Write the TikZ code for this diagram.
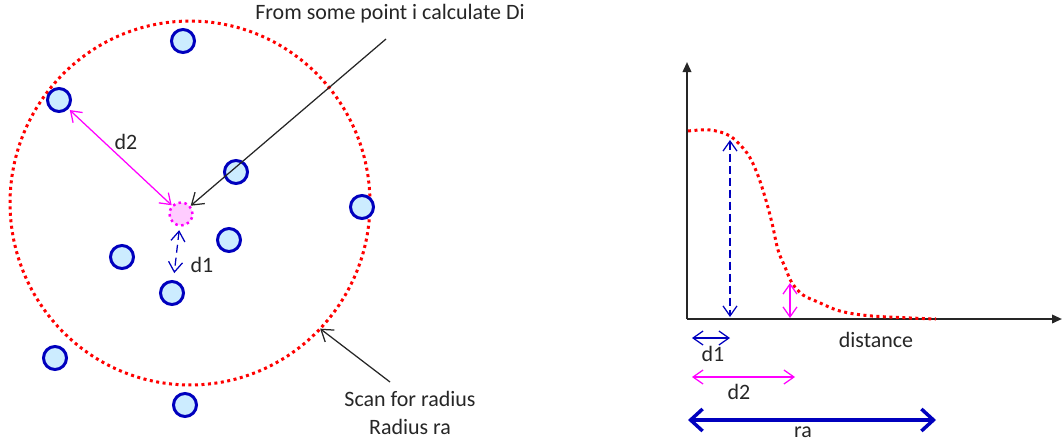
\documentclass[tikz,border=0pt]{standalone}
\usepackage{fontspec}
\setmainfont{Carlito}
\usepackage{xcolor}
\definecolor{ptblue}{RGB}{0,0,190}
\definecolor{ptfill}{RGB}{204,236,255}
\definecolor{hot}{RGB}{255,0,255}
\definecolor{pinkfill}{RGB}{255,204,255}
\definecolor{scanred}{RGB}{255,0,0}
\definecolor{ink}{RGB}{38,38,38}
\usepackage{tikz}
\usetikzlibrary{
    shapes.geometric,
    arrows.meta,
    positioning,
    calc
}

\tikzset{
    pt/.style={circle, draw=ptblue, fill=ptfill, line width=0.06cm, minimum size=0.46cm, inner sep=0pt},
    centre/.style={circle, draw=hot, fill=pinkfill, line width=0.05cm, dash pattern=on 0.05cm off 0.07cm, minimum size=0.46cm, inner sep=0pt},
    ring/.style={ellipse, draw=scanred, line width=0.06cm, dash pattern=on 0.06cm off 0.07cm, minimum width=7.2cm, minimum height=7.28cm, inner sep=0pt, outer sep=0pt},
    redcurve/.style={scanred, line width=0.06cm, dash pattern=on 0.06cm off 0.07cm},
    lbl/.style={font=\fontsize{12.5}{16}\selectfont, text=ink},
    barb/.style={{Straight Barb[length=0.2cm,width=0.28cm]}-{Straight Barb[length=0.2cm,width=0.28cm]}, line width=0.025cm},
    pointer/.style={-{Straight Barb[length=0.22cm,width=0.3cm]}, line width=0.025cm, ink},
    axis/.style={-{Triangle[length=0.2cm,width=0.17cm]}, line width=0.04cm, ink}
}

\begin{document}
\begin{tikzpicture}[x=0.02cm, y=-0.02cm]
    \useasboundingbox (0,0) rectangle (1062,443);
    \node[ring] (scan) at (190,203) {};
    \node[pt] (p1) at (183,41) {};
    \node[pt] (p2) at (59,100) {};
    \node[pt] (p3) at (236,172) {};
    \node[pt] (p4) at (362,207) {};
    \node[pt] (p5) at (229,240) {};
    \node[pt] (p6) at (122,257) {};
    \node[pt] (p7) at (172,293) {};
    \node[pt] (p8) at (55,358) {};
    \node[pt] (p9) at (185,405) {};
    \node[centre] (pi) at (181,214) {};
    \node[lbl] (fromlbl) at (390,14) {From some point i calculate Di};
    \node[lbl, align=center] (scanlbl) at (410,413) {Scan for radius\\Radius ra};
    \coordinate (fromtail) at (386,39);
    \coordinate (scantail) at (390,382);
    \draw[pointer] (fromtail) -- (pi);
    \draw[pointer] (scantail) -- (scan.-44);
    \draw[barb, hot, shorten <=1pt] (p2) -- (pi);
    \draw[barb, ptblue, dash pattern=on 0.16cm off 0.1cm, shorten <=2pt, shorten >=4pt] (pi) -- (p7);
    \node[lbl] (d2lbl) at (126,142) {d2};
    \node[lbl] (d1lbl) at (202,265) {d1};

    \coordinate (O) at (687,319);
    \coordinate (ytop) at (687,62);
    \coordinate (xend) at (1062,319);
    \draw[axis] (O) -- (ytop);
    \draw[axis] (O) -- (xend);
    \draw[redcurve] plot[smooth, tension=0.55] coordinates {(688,131) (710,130) (730,136) (747,153) (757,173) (765,197) (772,223) (778,250) (785,267) (792,283) (803,295) (818,302) (840,311) (872,316) (936,319)};
    \coordinate (h1) at (730,140);
    \coordinate (b1) at (730,317);
    \draw[barb, ptblue, dash pattern=on 0.16cm off 0.08cm] (h1) -- (b1);
    \coordinate (h2) at (790,283);
    \coordinate (b2) at (790,318);
    \draw[barb, hot] (h2) -- (b2);
    \coordinate (d1a) at (692,338);
    \coordinate (d1b) at (730,338);
    \draw[barb, ptblue] (d1a) -- (d1b);
    \node[lbl] (d1x) at (713,354) {d1};
    \coordinate (d2a) at (692,377);
    \coordinate (d2b) at (795,377);
    \draw[barb, hot] (d2a) -- (d2b);
    \node[lbl] (d2x) at (739,392) {d2};
    \coordinate (raa) at (688,420);
    \coordinate (rab) at (936,420);
    \draw[{Straight Barb[length=0.24cm,width=0.44cm]}-{Straight Barb[length=0.24cm,width=0.44cm]}, line width=0.07cm, ptblue] (raa) -- (rab);
    \node[lbl] (ralbl) at (803,432) {ra};
    \node[lbl] (distlbl) at (876,340) {distance};
\end{tikzpicture}
\end{document}
